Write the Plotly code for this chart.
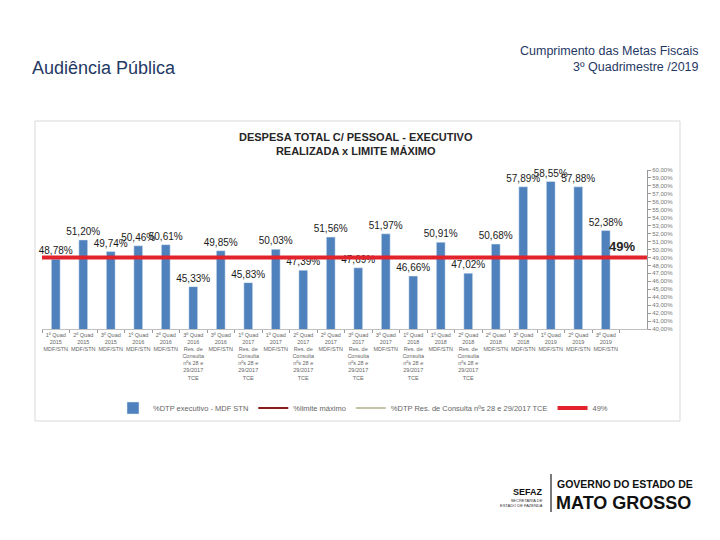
import plotly.graph_objects as go

# ---- data ----
PERIODS = ["1º Quad<br>2015", "2º Quad<br>2015", "3º Quad<br>2015", "1º Quad<br>2016", "2º Quad<br>2016",
           "3º Quad<br>2016", "3º Quad<br>2016", "1º Quad<br>2017", "1º Quad<br>2017", "2º Quad<br>2017",
           "2º Quad<br>2017", "3º Quad<br>2017", "3º Quad<br>2017", "1º Quad<br>2018", "1º Quad<br>2018",
           "2º Quad<br>2018", "2º Quad<br>2018", "3º Quad<br>2018", "1º Quad<br>2019", "2º Quad<br>2019",
           "3º Quad<br>2019"]
SOURCES = ["MDF/STN", "MDF/STN", "MDF/STN", "MDF/STN", "MDF/STN",
           "Res. de<br>Consulta<br>nºs 28 e<br>29/2017<br>TCE", "MDF/STN",
           "Res. de<br>Consulta<br>nºs 28 e<br>29/2017<br>TCE", "MDF/STN",
           "Res. de<br>Consulta<br>nºs 28 e<br>29/2017<br>TCE", "MDF/STN",
           "Res. de<br>Consulta<br>nºs 28 e<br>29/2017<br>TCE", "MDF/STN",
           "Res. de<br>Consulta<br>nºs 28 e<br>29/2017<br>TCE", "MDF/STN",
           "Res. de<br>Consulta<br>nºs 28 e<br>29/2017<br>TCE", "MDF/STN",
           "MDF/STN", "MDF/STN", "MDF/STN", "MDF/STN"]
DTP = [48.78, 51.20, 49.74, 50.46, 50.61, 45.33, 49.85, 45.83, 50.03, 47.39, 51.56,
       47.69, 51.97, 46.66, 50.91, 47.02, 50.68, 57.89, 58.55, 57.88, 52.38]
LIMIT = 49
Y_MIN, Y_MAX = 40, 60
SERIES_NAMES = ["%DTP executivo - MDF STN", "%limite máximo",
                "%DTP Res. de Consulta nºs 28 e 29/2017 TCE", "49%"]

CATEGORIES = [p + "<br>" + s for p, s in zip(PERIODS, SOURCES)]

# ---- layout geometry (pixels on the 720x540 page; the figure sits 8px in) ----
W, H = 720, 540
OFF = 8
PL, PR, PT, PB = 42 - OFF, 647 - OFF, 170 - OFF, 329 - OFF


def px(x):
    return (x - OFF - PL) / (PR - PL)


def py(y):
    return (PB - (y - OFF)) / (PB - PT)


FONT = "Liberation Sans"
NAVY = "#1f3864"

fig = go.Figure()
fig.add_trace(go.Bar(
    x=CATEGORIES, y=DTP, name=SERIES_NAMES[0], marker_color="#4f81bd", width=0.32,
    texttemplate="%{y:.2f}%", textposition="outside", cliponaxis=False,
    textfont=dict(size=10, color="#1a1a1a", family=FONT), constraintext="none",
))
# legend-only entries for the line series
fig.add_trace(go.Scatter(x=[None], y=[None], mode="lines", name=SERIES_NAMES[1],
                         line=dict(color="#8b1a1a", width=2)))
fig.add_trace(go.Scatter(x=[None], y=[None], mode="lines", name=SERIES_NAMES[2],
                         line=dict(color="#b3b38a", width=1.5)))
fig.add_trace(go.Scatter(x=[None], y=[None], mode="lines", name=SERIES_NAMES[3],
                         line=dict(color="#e3232b", width=4)))

shapes = [
    # chart frame
    dict(type="rect", xref="paper", yref="paper", x0=px(35), x1=px(680), y0=py(421), y1=py(121),
         line=dict(color="#d9d9d9", width=1), fillcolor="rgba(0,0,0,0)", layer="below"),
    # 49% limit line
    dict(type="line", xref="paper", yref="y", x0=0, x1=1, y0=LIMIT, y1=LIMIT,
         line=dict(color="#e3232b", width=4)),
    # logo separator
    dict(type="line", xref="paper", yref="paper", x0=px(551), x1=px(551), y0=py(474), y1=py(512),
         line=dict(color="#222", width=1.2)),
]

annotations = [
    dict(text="<b>DESPESA TOTAL C/ PESSOAL - EXECUTIVO<br>REALIZADA x LIMITE MÁXIMO</b>",
         xref="paper", yref="paper", x=px(356), y=py(144), xanchor="center", yanchor="middle",
         showarrow=False, font=dict(size=11, color="#262626", family=FONT), align="center"),
    dict(text=f"<b>{LIMIT}%</b>", xref="paper", yref="y", x=px(637), y=LIMIT, yshift=11,
         xanchor="right", yanchor="middle", showarrow=False,
         font=dict(size=13, color="#262626", family=FONT)),
    dict(text="Audiência Pública", xref="paper", yref="paper", x=px(30), y=py(68),
         xanchor="left", yanchor="middle",
         showarrow=False, font=dict(size=18, color=NAVY, family=FONT)),
    dict(text="Cumprimento das Metas Fiscais<br>3º Quadrimestre /2019", xref="paper", yref="paper",
         x=px(701), y=py(59), xanchor="right", yanchor="middle", align="right", showarrow=False,
         font=dict(size=12.5, color=NAVY, family=FONT)),
    dict(text="<b>GOVERNO DO ESTADO DE</b>", xref="paper", yref="paper", x=px(555), y=py(484),
         xanchor="left", yanchor="middle", showarrow=False,
         font=dict(size=10.5, color="#111", family=FONT)),
    dict(text="<b>MATO GROSSO</b>", xref="paper", yref="paper", x=px(554), y=py(503),
         xanchor="left", yanchor="middle", showarrow=False,
         font=dict(size=18, color="#111", family=FONT)),
    dict(text="<b>SEFAZ</b>", xref="paper", yref="paper", x=px(545), y=py(492),
         xanchor="right", yanchor="middle", showarrow=False,
         font=dict(size=9, color="#111", family=FONT)),
    dict(text="SECRETARIA DE<br>ESTADO DE FAZENDA", xref="paper", yref="paper", x=px(545), y=py(503),
         xanchor="right", yanchor="middle", align="right", showarrow=False,
         font=dict(size=4, color="#333", family=FONT)),
]

fig.update_layout(
    width=W, height=H, margin=dict(l=PL, r=W - PR, t=PT, b=H - PB),
    paper_bgcolor="white", plot_bgcolor="white",
    separators=",.", showlegend=True, bargap=0.7,
    font=dict(family=FONT),
    legend=dict(orientation="h", xanchor="center", x=px(363), yanchor="middle", y=py(408),
                font=dict(size=7.5, color="#666"), itemwidth=30, tracegroupgap=0,
                bgcolor="rgba(0,0,0,0)"),
    xaxis=dict(type="category", range=[-0.5, len(CATEGORIES) + 0.5], tickson="boundaries",
               ticks="outside", ticklen=3, tickcolor="#999", showline=True, linecolor="#bfbfbf",
               tickfont=dict(size=5.5, color="#666"), tickangle=0, showgrid=False,
               automargin=False),
    yaxis=dict(side="right", range=[Y_MIN, Y_MAX], dtick=1, tickformat=".2f", ticksuffix="%",
               ticks="outside", ticklen=3, tickcolor="#999", showline=True, linecolor="#999",
               showgrid=False, zeroline=False, tickfont=dict(size=6, color="#777"),
               automargin=False),
    shapes=shapes, annotations=annotations,
)

fig.write_html("out.html")
